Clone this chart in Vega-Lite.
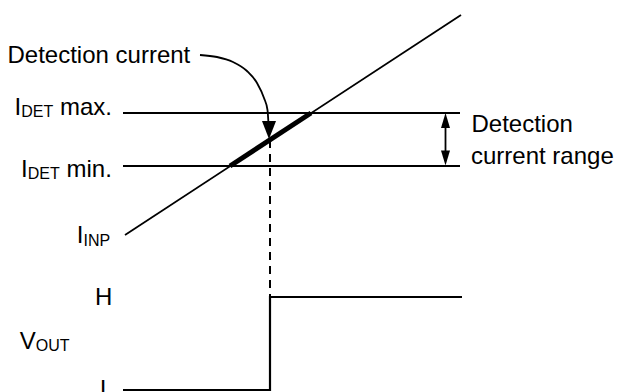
{
  "$schema": "https://vega.github.io/schema/vega-lite/v6.json",
  "width": 619,
  "height": 392,
  "autosize": {"type": "none"},
  "padding": 0,
  "background": "white",
  "config": {"view": {"stroke": null}},
  "datasets": {
    "thin": [
      {"x": 125, "y": 235, "x2": 461, "y2": 15},
      {"x": 123, "y": 113, "x2": 460, "y2": 113},
      {"x": 123, "y": 166, "x2": 460, "y2": 166},
      {"x": 445.5, "y": 122, "x2": 445.5, "y2": 157}
    ],
    "thick": [{"x": 230, "y": 166, "x2": 311, "y2": 113}],
    "dashed": [{"x": 270, "y": 140, "x2": 270, "y2": 297}],
    "step": [
      {"i": 0, "x": 123, "y": 390},
      {"i": 1, "x": 270, "y": 390},
      {"i": 2, "x": 270, "y": 297},
      {"i": 3, "x": 462, "y": 297}
    ],
    "curve": [
      {"i": 0, "x": 200, "y": 55},
      {"i": 1, "x": 217, "y": 57},
      {"i": 2, "x": 233, "y": 62},
      {"i": 3, "x": 247, "y": 71},
      {"i": 4, "x": 257, "y": 83},
      {"i": 5, "x": 264, "y": 98},
      {"i": 6, "x": 267.5, "y": 110},
      {"i": 7, "x": 268.5, "y": 124}
    ],
    "bigHead": [{"x": 269, "y": 139}],
    "upHead": [{"x": 445.5, "y": 113}],
    "downHead": [{"x": 445.5, "y": 165.5}],
    "labels": [
      {"x": 7.5, "y": 63, "t": "Detection current"},
      {"x": 14.5, "y": 115, "t": "I"},
      {"x": 59.9, "y": 115, "t": "max."},
      {"x": 21.1, "y": 177, "t": "I"},
      {"x": 66.5, "y": 177, "t": "min."},
      {"x": 76.8, "y": 243, "t": "I"},
      {"x": 95, "y": 305, "t": "H"},
      {"x": 19.8, "y": 349, "t": "V"},
      {"x": 100, "y": 397, "t": "L"},
      {"x": 471.5, "y": 131.5, "t": "Detection"},
      {"x": 471, "y": 164, "t": "current range"}
    ],
    "subs": [
      {"x": 21.2, "y": 117, "t": "DET"},
      {"x": 27.8, "y": 179, "t": "DET"},
      {"x": 83.5, "y": 245.5, "t": "INP"},
      {"x": 35.8, "y": 351, "t": "OUT"}
    ]
  },
  "encoding": {
    "x": {"field": "x", "type": "quantitative", "scale": {"domain": [0, 619], "nice": false, "zero": false}, "axis": null},
    "y": {"field": "y", "type": "quantitative", "scale": {"domain": [0, 392], "nice": false, "zero": false, "reverse": true}, "axis": null}
  },
  "layer": [
    {
      "data": {"name": "thin"},
      "mark": {"type": "rule", "color": "black", "strokeWidth": 1.8},
      "encoding": {"x2": {"field": "x2"}, "y2": {"field": "y2"}}
    },
    {
      "data": {"name": "thick"},
      "mark": {"type": "rule", "color": "black", "strokeWidth": 5},
      "encoding": {"x2": {"field": "x2"}, "y2": {"field": "y2"}}
    },
    {
      "data": {"name": "dashed"},
      "mark": {"type": "rule", "color": "black", "strokeWidth": 2, "strokeDash": [8, 6]},
      "encoding": {"x2": {"field": "x2"}, "y2": {"field": "y2"}}
    },
    {
      "data": {"name": "step"},
      "mark": {"type": "line", "color": "black", "strokeWidth": 2.2, "strokeJoin": "miter"},
      "encoding": {"order": {"field": "i", "type": "quantitative"}}
    },
    {
      "data": {"name": "curve"},
      "mark": {"type": "line", "color": "black", "strokeWidth": 1.8, "interpolate": "monotone"},
      "encoding": {"order": {"field": "i", "type": "quantitative"}}
    },
    {
      "data": {"name": "bigHead"},
      "mark": {"type": "point", "filled": true, "color": "black", "opacity": 1, "size": 324, "shape": "M0,0L-0.78,-2L0.78,-2Z"}
    },
    {
      "data": {"name": "upHead"},
      "mark": {"type": "point", "filled": true, "color": "black", "opacity": 1, "size": 225, "shape": "M0,0L-0.6,2L0.6,2Z"}
    },
    {
      "data": {"name": "downHead"},
      "mark": {"type": "point", "filled": true, "color": "black", "opacity": 1, "size": 225, "shape": "M0,0L-0.6,-2L0.6,-2Z"}
    },
    {
      "data": {"name": "labels"},
      "mark": {"type": "text", "align": "left", "baseline": "alphabetic", "font": "Liberation Sans", "fontSize": 24, "color": "black"},
      "encoding": {"text": {"field": "t"}}
    },
    {
      "data": {"name": "subs"},
      "mark": {"type": "text", "align": "left", "baseline": "alphabetic", "font": "Liberation Sans", "fontSize": 16, "color": "black"},
      "encoding": {"text": {"field": "t"}}
    }
  ]
}
